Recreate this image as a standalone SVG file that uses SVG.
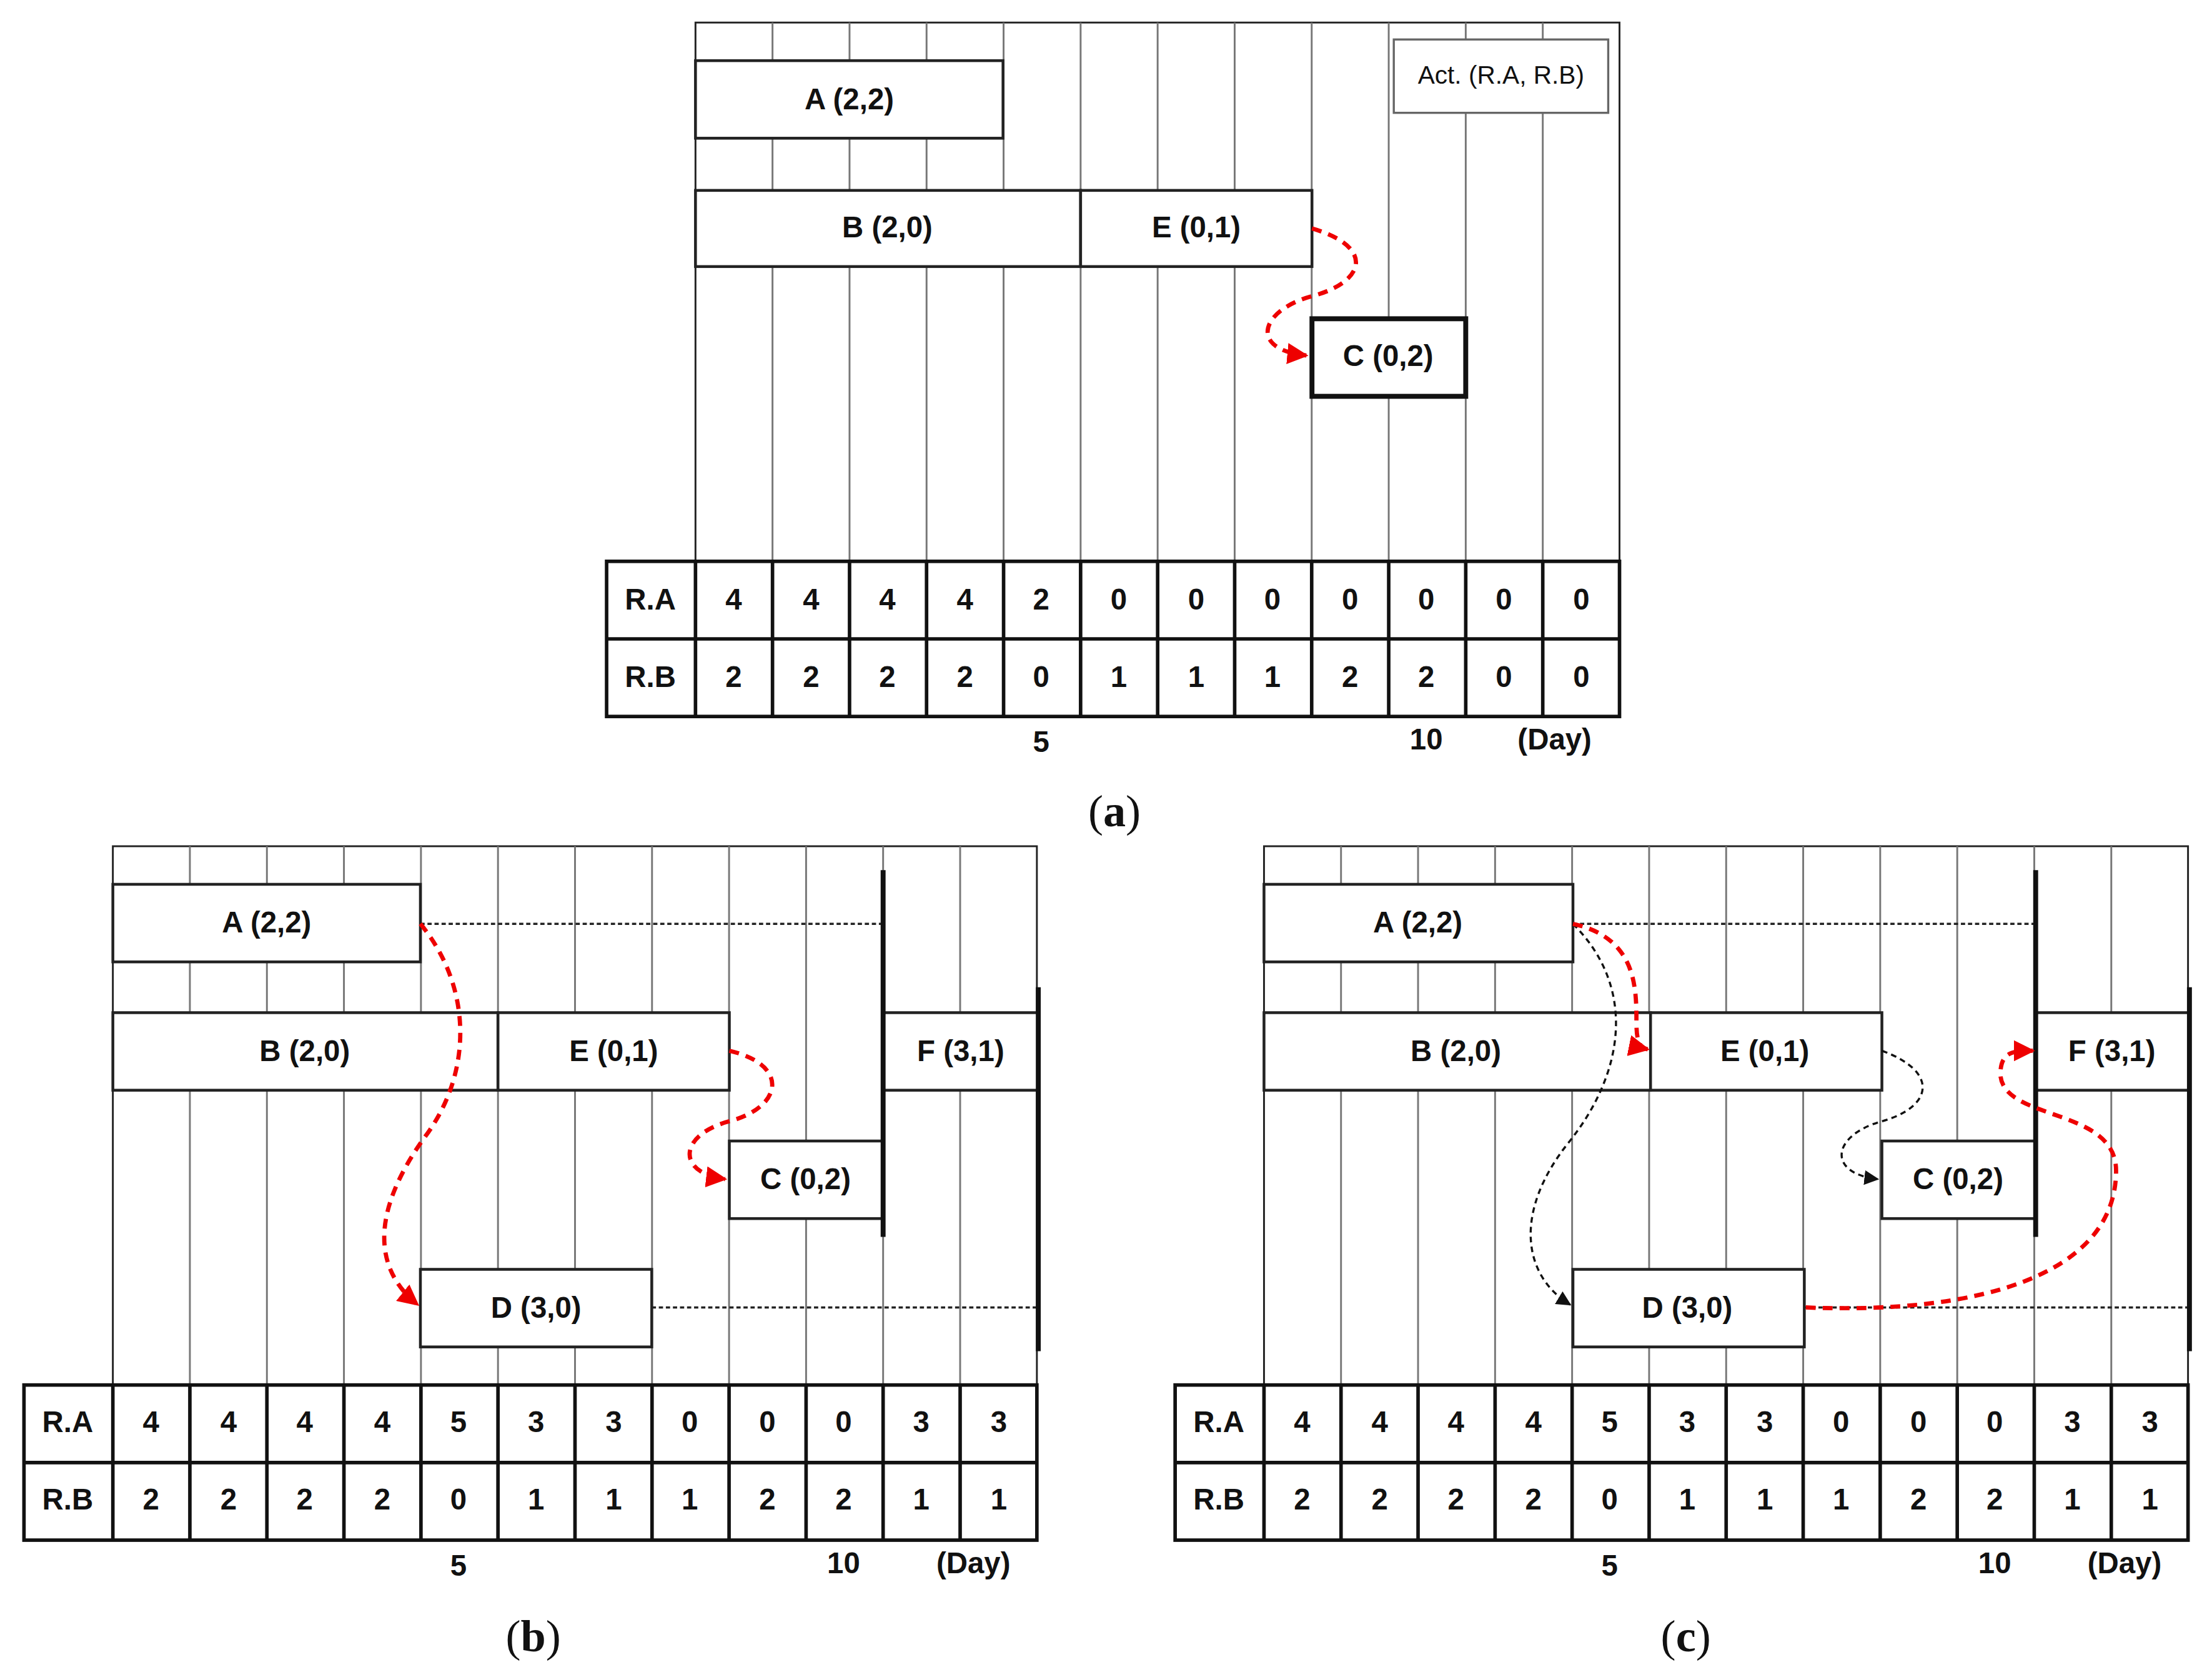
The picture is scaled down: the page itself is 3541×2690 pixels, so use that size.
<svg xmlns="http://www.w3.org/2000/svg" width="3541" height="2690" viewBox="0 0 3541 2690">
<defs>
<style>
.g{stroke:#222;stroke-width:1.3;fill:none}
.gl{stroke:#777;stroke-width:1.3;fill:none}
.b{fill:#fff;stroke:#222;stroke-width:2}
.bt{fill:#fff;stroke:#111;stroke-width:3.5}
.t{font-family:"Liberation Sans",Arial,sans-serif;font-weight:bold;font-size:21px;fill:#111;text-anchor:middle;dominant-baseline:central}
.cap{font-family:"Liberation Serif","Times New Roman",serif;font-size:32px;fill:#111;text-anchor:middle}
.dot{stroke:#222;stroke-width:1.5;stroke-dasharray:3,2;fill:none}
.rd{stroke:#e00;stroke-width:3;stroke-dasharray:7,5;fill:none;marker-end:url(#ra)}
.kd{stroke:#111;stroke-width:1.5;stroke-dasharray:4,3;fill:none;marker-end:url(#ka)}
.thk{stroke:#111;stroke-width:3.5}
</style>
<marker id="ra" viewBox="0 0 10 10" refX="9" refY="5" markerWidth="5" markerHeight="5" orient="auto" markerUnits="strokeWidth"><path d="M0,0L10,5L0,10z" fill="#e00"/></marker>
<marker id="ka" viewBox="0 0 10 10" refX="9" refY="5" markerWidth="7" markerHeight="7" orient="auto" markerUnits="strokeWidth"><path d="M0,0L10,5L0,10z" fill="#111"/></marker>
<g id="grid">
<rect class="g" x="0" y="0" width="655" height="492"/>
<path class="gl" d="M54.6,0V492M109.2,0V492M163.8,0V492M218.4,0V492M273,0V492M327.6,0V492M382.2,0V492M436.8,0V492M491.4,0V492M546,0V492M600.6,0V492"/>
<rect x="-63" y="382" width="718" height="110" fill="#fff" stroke="#111" stroke-width="2.5"/>
<path stroke="#111" stroke-width="2.5" d="M-63,437H655M0,382V492M54.6,382V492M109.2,382V492M163.8,382V492M218.4,382V492M273,382V492M327.6,382V492M382.2,382V492M436.8,382V492M491.4,382V492M546,382V492M600.6,382V492"/>
</g>
</defs>
<rect width="3541" height="2690" fill="#fff"/>
<g transform="scale(2.2583)">
<g id="panel-a">
<use href="#grid" x="493" y="16"/>
<g class="t">
<text x="461" y="425">R.A</text><text x="461" y="480">R.B</text>
<text x="520" y="425">4</text><text x="575" y="425">4</text><text x="629" y="425">4</text><text x="684" y="425">4</text><text x="738" y="425">2</text><text x="793" y="425">0</text><text x="848" y="425">0</text><text x="902" y="425">0</text><text x="957" y="425">0</text><text x="1011" y="425">0</text><text x="1066" y="425">0</text><text x="1121" y="425">0</text>
<text x="520" y="480">2</text><text x="575" y="480">2</text><text x="629" y="480">2</text><text x="684" y="480">2</text><text x="738" y="480">0</text><text x="793" y="480">1</text><text x="848" y="480">1</text><text x="902" y="480">1</text><text x="957" y="480">2</text><text x="1011" y="480">2</text><text x="1066" y="480">0</text><text x="1121" y="480">0</text>
<text x="738" y="526">5</text><text x="1011" y="524">10</text><text x="1102" y="524">(Day)</text>
</g>
<g id="a-legend"><rect x="988" y="28" width="152" height="52" fill="#fff" stroke="#666" stroke-width="1.5"/><text class="t" x="1064" y="53" style="font-size:18px;font-weight:normal">Act. (R.A, R.B)</text></g>
<g id="a-A"><rect class="b" x="493" y="43" width="218" height="55"/><text class="t" x="602" y="70">A (2,2)</text></g>
<g id="a-B"><rect class="b" x="493" y="135" width="273" height="54"/><text class="t" x="629" y="161">B (2,0)</text></g>
<g id="a-E"><rect class="b" x="766" y="135" width="164" height="54"/><text class="t" x="848" y="161">E (0,1)</text></g>
<g id="a-C"><rect class="bt" x="930" y="226" width="109" height="55"/><text class="t" x="984" y="252">C (0,2)</text></g>
<text class="cap" x="790" y="586">(<tspan font-weight="bold">a</tspan>)</text>
</g>
<g id="panel-b">
<use href="#grid" x="80" y="600"/>
<g class="t">
<text x="48" y="1008">R.A</text><text x="48" y="1063">R.B</text>
<text x="107" y="1008">4</text><text x="162" y="1008">4</text><text x="216" y="1008">4</text><text x="271" y="1008">4</text><text x="325" y="1008">5</text><text x="380" y="1008">3</text><text x="435" y="1008">3</text><text x="489" y="1008">0</text><text x="544" y="1008">0</text><text x="598" y="1008">0</text><text x="653" y="1008">3</text><text x="708" y="1008">3</text>
<text x="107" y="1063">2</text><text x="162" y="1063">2</text><text x="216" y="1063">2</text><text x="271" y="1063">2</text><text x="325" y="1063">0</text><text x="380" y="1063">1</text><text x="435" y="1063">1</text><text x="489" y="1063">1</text><text x="544" y="1063">2</text><text x="598" y="1063">2</text><text x="653" y="1063">1</text><text x="708" y="1063">1</text>
<text x="325" y="1110">5</text><text x="598" y="1108">10</text><text x="690" y="1108">(Day)</text>
</g>
<g id="b-A"><rect class="b" x="80" y="627" width="218" height="55"/><text class="t" x="189" y="654">A (2,2)</text></g>
<g id="b-B"><rect class="b" x="80" y="718" width="273" height="55"/><text class="t" x="216" y="745">B (2,0)</text></g>
<g id="b-E"><rect class="b" x="353" y="718" width="164" height="55"/><text class="t" x="435" y="745">E (0,1)</text></g>
<g id="b-C"><rect class="b" x="517" y="809" width="109" height="55"/><text class="t" x="571" y="836">C (0,2)</text></g>
<g id="b-D"><rect class="b" x="298" y="900" width="164" height="55"/><text class="t" x="380" y="927">D (3,0)</text></g>
<g id="b-F"><rect class="b" x="626" y="718" width="110" height="55"/><text class="t" x="681" y="745">F (3,1)</text></g>
<text class="cap" x="378" y="1171">(<tspan font-weight="bold">b</tspan>)</text>
</g>
<g id="panel-c">
<use href="#grid" x="896" y="600"/>
<g class="t">
<text x="864" y="1008">R.A</text><text x="864" y="1063">R.B</text>
<text x="923" y="1008">4</text><text x="978" y="1008">4</text><text x="1032" y="1008">4</text><text x="1087" y="1008">4</text><text x="1141" y="1008">5</text><text x="1196" y="1008">3</text><text x="1251" y="1008">3</text><text x="1305" y="1008">0</text><text x="1360" y="1008">0</text><text x="1414" y="1008">0</text><text x="1469" y="1008">3</text><text x="1524" y="1008">3</text>
<text x="923" y="1063">2</text><text x="978" y="1063">2</text><text x="1032" y="1063">2</text><text x="1087" y="1063">2</text><text x="1141" y="1063">0</text><text x="1196" y="1063">1</text><text x="1251" y="1063">1</text><text x="1305" y="1063">1</text><text x="1360" y="1063">2</text><text x="1414" y="1063">2</text><text x="1469" y="1063">1</text><text x="1524" y="1063">1</text>
<text x="1141" y="1110">5</text><text x="1414" y="1108">10</text><text x="1506" y="1108">(Day)</text>
</g>
<g id="c-A"><rect class="b" x="896" y="627" width="219" height="55"/><text class="t" x="1005" y="654">A (2,2)</text></g>
<g id="c-B"><rect class="b" x="896" y="718" width="274" height="55"/><text class="t" x="1032" y="745">B (2,0)</text></g>
<g id="c-E"><rect class="b" x="1170" y="718" width="164" height="55"/><text class="t" x="1251" y="745">E (0,1)</text></g>
<g id="c-C"><rect class="b" x="1334" y="809" width="109" height="55"/><text class="t" x="1388" y="836">C (0,2)</text></g>
<g id="c-D"><rect class="b" x="1115" y="900" width="164" height="55"/><text class="t" x="1196" y="927">D (3,0)</text></g>
<g id="c-F"><rect class="b" x="1443" y="718" width="109" height="55"/><text class="t" x="1497" y="745">F (3,1)</text></g>
<text class="cap" x="1195" y="1171">(<tspan font-weight="bold">c</tspan>)</text>
</g>
<g id="connectors">
<path class="rd" d="M930,162C975,175 968,200 930,210C893,220 885,248 926,252"/>
<path class="dot" d="M298,655H626M462,927H736"/>
<path class="thk" d="M626,617V877M736,700V958"/>
<path class="rd" d="M298,655C335,700 335,760 302,805C262,860 265,900 296,925"/>
<path class="rd" d="M517,745C560,755 555,785 517,795C480,805 480,832 514,836"/>
<path class="dot" d="M1115,655H1443M1279,927H1552"/>
<path class="thk" d="M1443,617V877M1552,700V958"/>
<path class="kd" d="M1115,655C1160,700 1152,760 1112,810C1072,860 1080,905 1113,925"/>
<path class="kd" d="M1334,745C1375,760 1370,785 1334,795C1298,805 1295,832 1331,836"/>
<path class="rd" d="M1115,655C1160,665 1160,700 1160,725C1160,740 1163,743 1168,744"/>
<path class="rd" d="M1280,927C1400,932 1500,905 1500,830C1500,785 1420,795 1418,762C1418,745 1428,745 1441,745"/>
</g>
</g>
</svg>
